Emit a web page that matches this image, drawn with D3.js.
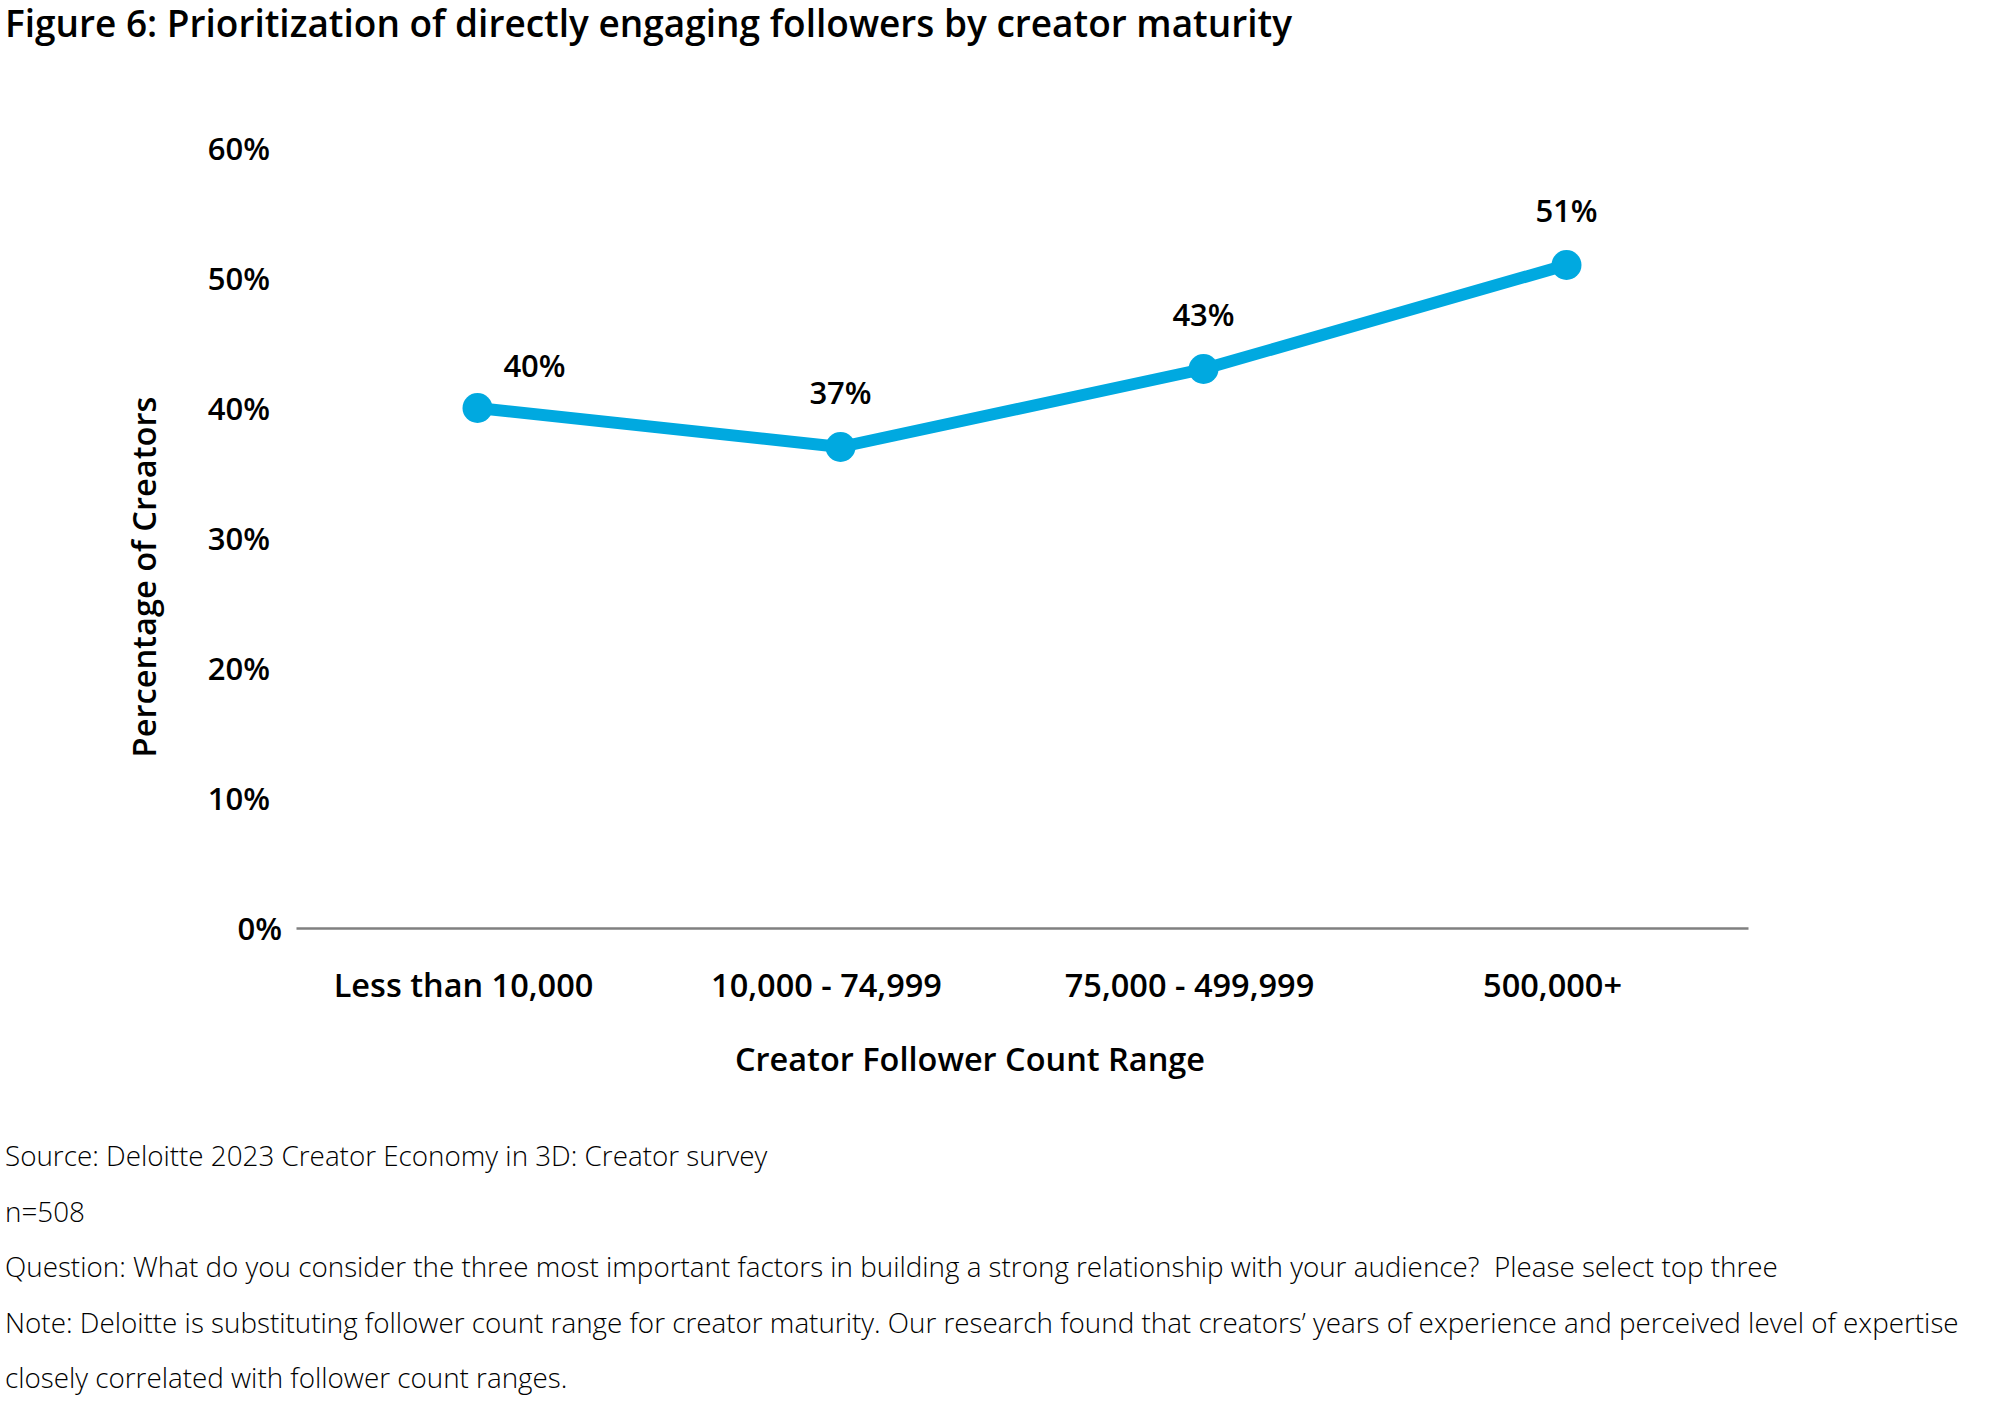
<!DOCTYPE html>
<html><head><meta charset="utf-8">
<script src="https://cdn.jsdelivr.net/npm/d3@7"></script>
<style>
html,body{margin:0;padding:0;background:#fff;}
svg{display:block;font-family:"Open Sans",sans-serif;}
</style></head>
<body>
<svg id="chart" width="2000" height="1412"></svg>
<script>
const categories = ["Less than 10,000", "10,000 - 74,999", "75,000 - 499,999", "500,000+"];
const values = [40, 37, 43, 51];
const valueLabels = ["40%", "37%", "43%", "51%"];
const yTicks = [0, 10, 20, 30, 40, 50, 60];
const titleText = "Figure 6: Prioritization of directly engaging followers by creator maturity";
const xTitle = "Creator Follower Count Range";
const yTitle = "Percentage of Creators";
const notes = [
  "Source: Deloitte 2023 Creator Economy in 3D: Creator survey",
  "n=508",
  "Question: What do you consider the three most important factors in building a strong relationship with your audience?\u00a0 Please select top three",
  "Note: Deloitte is substituting follower count range for creator maturity. Our research found that creators\u2019 years of experience and perceived level of expertise",
  "closely correlated with follower count ranges."
];

const svg = d3.select("#chart");
const x = d3.scaleBand().domain(categories).range([296, 1748]);
const y = d3.scaleLinear().domain([0, 60]).range([928, 148]);

svg.append("text").attr("x", 5).attr("y", 37)
  .attr("font-size", 37).attr("font-weight", 600).attr("fill", "#000")
  .text(titleText);

// Y axis
const yAxis = svg.append("g").attr("transform", "translate(296,0)")
  .call(d3.axisLeft(y).tickValues(yTicks).tickFormat(d => d + "%").tickSize(0).tickPadding(26));
yAxis.select(".domain").remove();
yAxis.selectAll("text").attr("font-size", 31).attr("font-weight", 600)
  .attr("fill", "#000").attr("font-family", "'Open Sans',sans-serif")
  .attr("dy", "0.36em")
  .attr("dx", d => d === 0 ? 12 : 0);

// X axis baseline
const xAxis = svg.append("g").attr("transform", "translate(0,928)")
  .call(d3.axisBottom(x).tickSize(0).tickPadding(0));
xAxis.select(".domain").attr("stroke", "#808080").attr("stroke-width", 2.5);
xAxis.selectAll("text").attr("font-size", 32.5).attr("font-weight", 600)
  .attr("fill", "#000").attr("font-family", "'Open Sans',sans-serif")
  .attr("dy", null).attr("y", 69).attr("dx", -14);

svg.append("text").attr("x", 970).attr("y", 1071).attr("text-anchor", "middle")
  .attr("font-size", 32.5).attr("font-weight", 600).attr("fill", "#000").text(xTitle);

svg.append("text").attr("transform", "translate(156,577) rotate(-90)")
  .attr("text-anchor", "middle")
  .attr("font-size", 32.6).attr("font-weight", 600).attr("fill", "#000").text(yTitle);

const cx = d => x(d) + x.bandwidth() / 2;
const pts = categories.map((c, i) => [cx(c), y(values[i])]);

svg.append("path").attr("d", d3.line()(pts))
  .attr("fill", "none").attr("stroke", "#00a9e0").attr("stroke-width", 12)
  .attr("stroke-linejoin", "round");

svg.selectAll("circle.pt").data(pts).join("circle").attr("class", "pt")
  .attr("cx", d => d[0]).attr("cy", d => d[1]).attr("r", 15).attr("fill", "#00a9e0");

svg.selectAll("text.val").data(pts).join("text").attr("class", "val")
  .attr("x", (d, i) => d[0] + (i === 0 ? 57 : 0))
  .attr("y", (d, i) => d[1] - (i === 0 ? 31 : 43))
  .attr("text-anchor", "middle").attr("font-size", 31).attr("font-weight", 600)
  .attr("fill", "#000").text((d, i) => valueLabels[i]);

svg.selectAll("text.note").data(notes).join("text").attr("class", "note")
  .attr("x", 5).attr("y", (d, i) => 1166 + i * 55.5)
  .attr("font-size", 27.8).attr("font-weight", 300).attr("fill", "#000")
  .text(d => d);
</script>
</body></html>
